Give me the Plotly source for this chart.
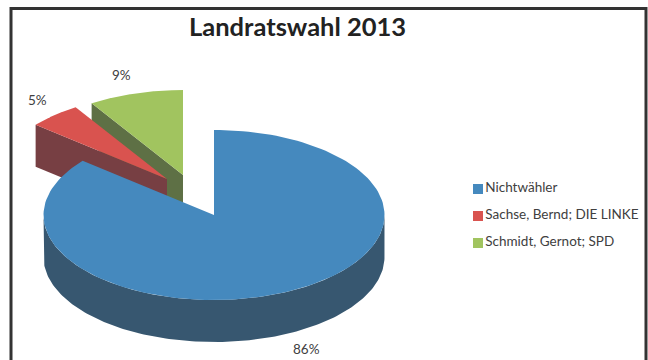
import numpy as np
import plotly.graph_objects as go

# Election result shares
categories = ["Nichtwähler", "Sachse, Bernd; DIE LINKE", "Schmidt, Gernot; SPD"]
values = [86, 5, 9]
title_text = "Landratswahl 2013"

top_colors = ["#4589BE", "#D9534F", "#A1C45F"]
wall_colors = ["#375770", "#773F43", "#5E7045"]
text_color = "#404040"

# Tilted-pie projection, in plot units
CENTER = (214.0, 215.0)
RX, RY = 170.5, 85.0
DEPTH = 42.0
# Displacement of each pulled-out slice from the pie centre
EXPLODE = [(0, 0), (-47, -36), (-31, -40)]
LABEL_POS = [(306, 349), (37, 99.5), (121, 75)]
KEY_X = 478
KEY_Y = [189, 216, 243]


def rim(cx, cy, start, end, drop=0.0, n=160):
    """Points on the pie rim, clockwise from twelve o'clock, angles in degrees."""
    t = np.radians(np.linspace(start, end, n))
    return cx + RX * np.sin(t), cy - RY * np.cos(t) + drop


# Slice boundaries from the shares
edges = np.concatenate([[0], np.cumsum(values)]) * 360.0 / sum(values)

fig = go.Figure()


def polygon(x, y, color):
    fig.add_trace(go.Scatter(
        x=x, y=y, mode="lines", fill="toself", fillcolor=color,
        line=dict(width=0, color=color), hoverinfo="skip", showlegend=False,
    ))


# Paint back to front: small slices first, large slice last
for i in [2, 1, 0]:
    start, end = edges[i], edges[i + 1]
    cx, cy = CENTER[0] + EXPLODE[i][0], CENTER[1] + EXPLODE[i][1]
    rx, ry = rim(cx, cy, start, end)
    if i > 0:
        # Cut face on the leading edge of the pulled-out slice
        polygon([cx, rx[0], rx[0], cx, cx],
                [cy, ry[0], ry[0] + DEPTH, cy + DEPTH, cy], wall_colors[i])
    else:
        # Front curved wall of the main slice
        ax, ay = rim(cx, cy, 90, 270)
        bx, by = rim(cx, cy, 90, 270, DEPTH)
        polygon(np.r_[ax, bx[::-1], ax[0]], np.r_[ay, by[::-1], ay[0]], wall_colors[i])
    polygon(np.r_[cx, rx, cx], np.r_[cy, ry, cy], top_colors[i])

# Key beside the pie: swatch plus name on each row
for name, color, ky in zip(categories, top_colors, KEY_Y):
    fig.add_trace(go.Scatter(
        x=[KEY_X], y=[ky], mode="markers+text", name=name, text=[name],
        textposition="middle right", showlegend=False,
        textfont=dict(family="Lato", size=13.5, color=text_color),
        marker=dict(symbol="square", size=10, color=color),
    ))

# Percentage labels
for (lx, ly), v in zip(LABEL_POS, values):
    fig.add_annotation(x=lx, y=ly, text=f"{v}%", showarrow=False,
                       font=dict(family="Lato", size=13.5, color=text_color))

fig.add_annotation(x=297, y=26, text=f"<b>{title_text}</b>", showarrow=False,
                   font=dict(family="Lato", size=25.5, color="#222222"))

fig.update_layout(
    width=648, height=360, margin=dict(l=0, r=0, t=0, b=0),
    paper_bgcolor="white", plot_bgcolor="white", showlegend=False,
    xaxis=dict(range=[0, 648], visible=False, fixedrange=True),
    yaxis=dict(range=[360, 0], visible=False, fixedrange=True),
    shapes=[dict(type="rect", xref="x", yref="y", x0=11, y0=8.5, x1=646, y1=372,
                 line=dict(color="#333333", width=3), layer="below")],
)

fig.write_html("out.html")
